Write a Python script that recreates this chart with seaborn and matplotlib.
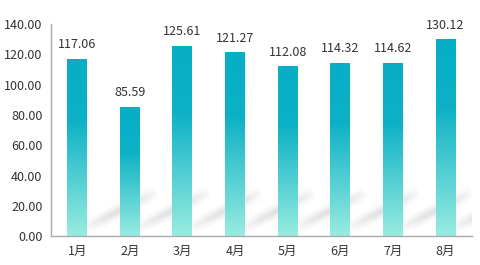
import numpy as np
import pandas as pd
import matplotlib
matplotlib.use("Agg")
import matplotlib.pyplot as plt
from matplotlib.colors import LinearSegmentedColormap
from matplotlib.collections import LineCollection
import seaborn as sns

months = ["1月", "2月", "3月", "4月", "5月", "6月", "7月", "8月"]
values = [117.06, 85.59, 125.61, 121.27, 112.08, 114.32, 114.62, 130.12]

sns.set_theme(style="white")
plt.rcParams['font.family'] = ['Noto Sans CJK SC', 'DejaVu Sans']

fig = plt.figure(figsize=(4.8, 2.65), dpi=100)
ax = fig.add_axes([0.106, 0.109, 0.877, 0.8])

df = pd.DataFrame({"month": months, "value": values})
sns.barplot(data=df, x="month", y="value", ax=ax, width=0.38, color="#0aafc6")

cmap = LinearSegmentedColormap.from_list(
    "g", [(0.0, "#07aec6"), (0.35, "#0cb1c6"), (1.0, "#98ece0")])
grad = np.linspace(0, 1, 256).reshape(-1, 1)
for p in ax.patches:
    x0, y0 = p.get_x(), p.get_y()
    w, h = p.get_width(), p.get_height()
    im = ax.imshow(grad, cmap=cmap, aspect="auto",
                   extent=(x0, x0 + w, y0, y0 + h), origin="upper", zorder=2)
    im.set_clip_path(p)
    p.set_facecolor("none")
    p.set_edgecolor("none")

    # decorative soft diagonal shadow behind each bar
    xs = x0 + w
    t = np.linspace(0, 1, 40)
    sx = xs - 0.05 + t * 1.35
    sy = 5 + t * 24
    pts = np.column_stack([sx, sy]).reshape(-1, 1, 2)
    segs = np.concatenate([pts[:-1], pts[1:]], axis=1)
    env = np.sin(np.pi * t[:-1]) ** 0.8
    for lw, a in [(11, 0.035), (8, 0.05), (5, 0.06), (2.5, 0.06)]:
        cols = np.zeros((len(segs), 4))
        cols[:, :3] = 0.45
        cols[:, 3] = a * env
        lc = LineCollection(segs, colors=cols, linewidths=lw, zorder=1,
                            capstyle="butt")
        ax.add_collection(lc)

for i, v in enumerate(values):
    ax.text(i, v + 5, f"{v:.2f}", ha="center", va="bottom", fontsize=9, color="#333333")

ax.set_xlim(-0.5, len(months) - 0.5)
ax.set_ylim(0, 140)
ax.set_yticks(np.arange(0, 141, 20))
ax.set_yticklabels([f"{t:.2f}" for t in np.arange(0, 141, 20)])
ax.set_xlabel("")
ax.set_ylabel("")
ax.tick_params(axis="both", length=0, labelsize=9, colors="#333333")
ax.tick_params(axis="y", pad=6)
ax.tick_params(axis="x", pad=6)
for s in ["top", "right"]:
    ax.spines[s].set_visible(False)
for s in ["left", "bottom"]:
    ax.spines[s].set_color("#aaaaaa")
    ax.spines[s].set_linewidth(1)
    ax.spines[s].set_zorder(3)

fig.savefig("out.png", dpi=100)
